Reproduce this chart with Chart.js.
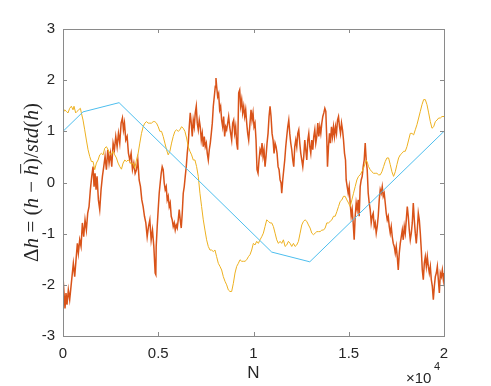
<!DOCTYPE html>
<html><head><meta charset="utf-8">
<script src="https://cdn.jsdelivr.net/npm/chart.js@4"></script>
<style>html,body{margin:0;padding:0;background:#fff}#wrap{width:491px;height:386px}</style>
</head><body><div id="wrap"><canvas id="c" width="491" height="386"></canvas></div>
<script>
// ---- data ----
const xTicks = [0, 5000, 10000, 15000, 20000];
const yTicks = [-3, -2, -1, 0, 1, 2, 3];
const blueN = [0, 1050, 2944, 10957, 12955, 20000];
const blueV = [1.0, 1.38, 1.56, -1.36, -1.55, 1.0];

const yellowN = [0,88,175,263,351,438,526,578,666,736,824,912,964,1052,1139,1227,1315,1402,1490,1578,1665,1753,1841,1928,2016,2104,2191,2279,2367,2454,2542,2630,2717,2805,2892,2980,3068,3155,3243,3331,3418,3506,3594,3681,3769,3857,3944,4032,4120,4207,4295,4383,4470,4558,4645,4733,
4822,4910,4997,5085,5173,5260,5348,5436,5523,5611,5699,5786,5874,5961,6049,6137,6224,6312,6400,6487,6575,6663,6750,6838,6926,7013,7101,7189,7276,7364,7452,7539,7627,7715,7802,7890,7977,8065,8153,8240,8328,8416,8503,8591,8679,8766,8854,8942,9029,9117,9205,9292,9380,9468,9555,9643,9731,
9817,9905,9992,10080,10168,10255,10343,10431,10518,10606,10694,10781,10869,10956,11044,11132,11219,11307,11395,11482,11570,11658,11745,11833,11921,12008,12096,12184,12271,12359,12447,12534,12622,12709,12797,12885,12972,13060,13148,13235,13323,13411,13498,13586,13674,13761,13849,13937,14024,14112,14200,14287,14375,14462,14550,14638,14725,
14812,14900,14987,15075,15163,15250,15338,15426,15513,15601,15689,15776,15864,15916,15986,16039,16127,16214,16302,16390,16477,16565,16653,16740,16828,16916,17003,17091,17179,17266,17354,17442,17529,17617,17705,17792,17880,17967,18055,18143,18230,18318,18406,18493,18581,18669,18756,18844,18932,19019,19107,19195,19282,19370,19458,19545,19633,19721,19808,19896,20000];
const yellowV = [1.36,1.42,1.39,1.36,1.45,1.49,1.42,1.49,1.36,1.39,1.42,1.45,1.36,1.22,1.03,0.83,0.64,0.51,0.41,0.41,0.25,0.38,0.44,0.54,0.57,0.54,0.67,0.70,0.64,0.57,0.54,0.61,0.54,0.48,0.38,0.31,0.26,0.38,0.44,0.41,0.44,0.41,0.35,0.38,0.28,0.44,0.57,0.77,0.96,1.09,1.16,1.19,1.16,1.16,1.16,1.19,
1.19,1.16,1.09,1.00,1.00,0.90,0.77,0.64,0.54,0.61,0.77,0.90,1.00,1.03,1.00,1.03,1.09,1.06,1.00,0.87,0.70,0.61,0.54,0.44,0.44,0.31,0.12,-0.21,-0.47,-0.73,-0.93,-1.12,-1.25,-1.32,-1.32,-1.35,-1.32,-1.45,-1.58,-1.64,-1.71,-1.84,-1.93,-2.00,-2.10,-2.13,-2.13,-1.97,-1.77,-1.64,-1.58,-1.51,-1.54,-1.54,-1.54,-1.51,-1.45,
-1.41,-1.32,-1.19,-1.22,-1.15,-1.19,-1.12,-1.06,-0.99,-0.86,-0.73,-0.76,-0.79,-0.79,-0.86,-0.99,-1.12,-1.19,-1.15,-1.19,-1.12,-1.25,-1.22,-1.15,-1.19,-1.25,-1.19,-1.25,-1.22,-1.15,-0.99,-0.83,-0.76,-0.73,-0.76,-0.83,-0.89,-0.99,-1.02,-0.99,-0.96,-0.96,-0.96,-0.93,-0.93,-0.89,-0.79,-0.79,-0.76,-0.73,-0.66,-0.66,-0.57,-0.47,-0.37,-0.34,-0.27,
-0.27,-0.34,-0.40,-0.47,-0.34,-0.21,-0.08,0.05,0.12,0.15,0.21,0.28,0.38,0.44,0.38,0.31,0.25,0.21,0.18,0.18,0.18,0.15,0.15,0.21,0.31,0.41,0.48,0.48,0.35,0.21,0.12,0.21,0.35,0.48,0.54,0.57,0.61,0.61,0.70,0.83,0.96,0.96,0.93,1.03,1.13,1.26,1.39,1.52,1.62,1.62,1.52,1.36,1.19,1.06,1.09,1.19,1.22,1.26,1.26,1.29,1.29];

const orangeN = [0,53,105,158,210,280,351,421,491,543,614,684,754,806,877,947,1017,1087,1157,1227,1297,1367,1437,1508,1578,1630,1683,1735,1788,1858,1928,1998,2069,2139,2209,2279,2349,2419,2489,2559,2630,2700,2770,2840,2910,2980,3050,3120,3173,3226,3296,3366,3436,3506,3576,3647,3717,3787,3857,3927,3997,4067,4137,4207,4277,4348,4418,4488,4558,4628,4698,4768,4838,4873,
4892,4945,4997,5050,5102,5155,5208,5260,5313,5365,5418,5471,5523,5576,5628,5681,5734,5786,5839,5891,5944,5997,6049,6102,6154,6207,6259,6312,6365,6417,6470,6522,6575,6628,6680,6733,6785,6838,6890,6943,6996,7048,7101,7153,7206,7259,7311,7364,7416,7469,7522,7574,7627,7679,7732,7785,7837,7890,7942,7995,8030,8065,8118,8170,8223,8275,8328,8381,8433,8486,8538,8591,8644,8696,8749,8801,8854,8907,8959,9012,9064,9117,9169,9222,9275,9327,9380,9432,9485,9538,9590,9643,9695,9748,9801,
9870,9922,9975,10027,10080,10133,10185,10238,10290,10343,10395,10448,10501,10553,10606,10658,10711,10764,10816,10869,10921,10974,11027,11079,11132,11184,11237,11290,11342,11395,11447,11482,11535,11588,11640,11693,11745,11798,11851,11903,11956,12008,12061,12113,12166,12219,12271,12324,12376,12429,12482,12534,12587,12639,12692,12744,12797,12850,12902,12955,13007,13060,13113,13165,13218,13270,13323,13375,13428,13481,13533,13586,13638,13691,13744,13796,13849,13884,13936,13989,14041,14094,14147,14199,14252,14304,14357,14410,14462,14515,14568,14620,14673,14725,14778,
14830,14865,14917,14970,15022,15075,15128,15180,15233,15285,15338,15390,15443,15496,15548,15601,15653,15706,15759,15811,15864,15916,15969,16022,16074,16127,16179,16232,16285,16337,16390,16442,16495,16547,16600,16653,16705,16758,16810,16863,16916,16968,17021,17073,17126,17179,17231,17284,17336,17389,17442,17494,17547,17599,17652,17705,17757,17810,17862,17915,17967,18020,18073,18125,18178,18230,18283,18335,18388,18441,18493,18546,18598,18651,18704,18756,18809,18861,18914,18966,19019,19072,19124,19177,19229,19282,19334,19387,19440,19492,19545,19597,19650,19703,19756,19808,19861,19913,19966,20000];
const orangeV = [-1.84,-2.16,-2.46,-2.16,-2.39,-2.10,-2.29,-2.03,-1.77,-1.58,-1.84,-1.51,-1.19,-1.38,-1.12,-1.25,-0.79,-1.06,-0.73,-0.93,-0.60,-0.47,-0.14,0.12,0.31,-0.08,0.18,-0.14,0.12,-0.34,-0.53,-0.14,0.12,0.31,0.51,0.25,0.64,0.38,0.57,0.31,0.77,0.64,0.90,0.70,0.96,0.77,1.16,1.26,1.03,1.16,0.83,0.90,0.57,0.44,0.57,0.25,0.38,0.18,0.25,0.44,0.05,-0.08,-0.34,-0.47,-0.66,-0.79,-1.06,-0.86,-0.73,-1.12,-0.93,-1.25,-1.77,-1.80,
-1.25,-0.86,-0.53,-0.21,-0.01,0.18,0.31,0.25,-0.01,-0.14,-0.08,-0.34,-0.27,-0.47,-0.40,-0.66,-0.73,-0.86,-0.79,-0.93,-0.83,-0.89,-0.73,-0.53,-0.73,-0.89,-0.60,-0.21,-0.08,0.12,0.31,0.57,0.77,1.09,1.36,1.16,0.90,1.22,1.09,1.36,1.49,1.16,1.03,1.22,1.09,0.83,0.96,0.70,0.90,0.70,0.77,0.57,0.44,0.64,0.77,0.96,1.16,1.49,1.68,1.88,2.04,1.88,1.68,1.74,1.42,1.49,1.22,1.09,1.29,0.90,1.09,1.03,1.16,1.29,1.09,0.96,0.83,1.16,1.22,0.96,1.09,0.77,0.64,1.75,1.81,1.49,1.62,1.36,1.49,1.29,1.42,1.16,0.96,0.83,1.09,
1.42,1.22,1.36,1.09,1.16,0.83,0.25,0.18,0.44,0.64,0.57,0.77,0.51,0.64,0.31,0.51,0.77,0.96,1.29,1.49,1.29,0.96,0.83,0.57,0.77,0.70,0.57,0.31,0.25,0.05,-0.01,-0.21,0.05,0.25,0.44,0.70,0.90,1.09,1.22,0.96,0.77,0.64,0.44,0.31,0.70,0.83,0.70,0.96,1.03,0.77,0.57,0.44,0.31,0.51,0.83,0.64,0.44,0.83,0.96,0.70,0.57,0.83,0.64,0.90,1.03,0.77,0.90,1.16,0.90,1.09,0.96,1.16,1.29,1.36,1.45,1.39,0.83,0.31,0.70,0.96,0.77,1.09,0.90,1.09,0.90,1.09,0.96,1.22,1.29,1.09,0.96,1.16,1.03,0.83,0.57,
0.44,0.05,-0.08,-0.21,-0.08,-0.40,-0.66,-0.53,-0.79,-1.12,-0.66,-0.40,-0.53,-0.34,-0.66,-0.08,0.05,0.12,0.31,0.44,0.77,0.44,0.25,-0.21,-0.40,-0.53,-0.79,-0.66,-0.60,-0.86,-0.79,-0.99,-0.86,-0.66,-0.34,-0.14,-0.21,-0.08,-0.27,-0.21,-0.40,-0.60,-0.73,-0.66,-0.86,-0.99,-0.86,-1.06,-1.19,-1.25,-1.38,-1.25,-1.45,-1.71,-1.38,-1.19,-1.06,-0.93,-1.12,-0.86,-0.99,-0.73,-0.47,-0.66,-0.93,-1.12,-0.99,-0.79,-0.40,-0.73,-0.99,-1.19,-0.93,-0.60,-0.73,-0.99,-1.32,-1.71,-1.90,-1.58,-1.45,-1.64,-1.45,-1.64,-1.77,-1.64,-1.90,-2.03,-2.29,-2.03,-1.84,-1.77,-1.64,-1.90,-2.16,-1.77,-1.84,-1.71,-1.90,-1.77];

const toPts = (xs, ys) => xs.map((x, i) => ({x: x, y: ys[i]}));

const AX = '#262626';
const BOX = '#8a8a8a';

const boxPlugin = {
  id: 'boxPlugin',
  afterDatasetsDraw(chart) {
    const {ctx, chartArea: a, scales: {x, y}} = chart;
    ctx.save();
    ctx.strokeStyle = BOX;
    ctx.lineWidth = 1;
    ctx.strokeRect(Math.round(a.left) + 0.5, Math.round(a.top) + 0.5, Math.round(a.right - a.left), Math.round(a.bottom - a.top));
    const L = 4;
    ctx.beginPath();
    xTicks.forEach(v => {
      const px = Math.round(x.getPixelForValue(v)) + 0.5;
      ctx.moveTo(px, a.bottom); ctx.lineTo(px, a.bottom - L);
      ctx.moveTo(px, a.top); ctx.lineTo(px, a.top + L);
    });
    yTicks.forEach(v => {
      const py = Math.round(y.getPixelForValue(v)) + 0.5;
      ctx.moveTo(a.left, py); ctx.lineTo(a.left + L, py);
      ctx.moveTo(a.right, py); ctx.lineTo(a.right - L, py);
    });
    ctx.stroke();

    // x label
    ctx.fillStyle = AX;
    ctx.font = '17px "Liberation Sans", Arial, sans-serif';
    ctx.textAlign = 'center';
    ctx.textBaseline = 'alphabetic';
    ctx.fillText('N', (a.left + a.right) / 2, 378);
    // exponent
    ctx.font = '15px "Liberation Sans", Arial, sans-serif';
    ctx.textAlign = 'left';
    ctx.fillText('\u00d710', 406, 383);
    ctx.font = '11px "Liberation Sans", Arial, sans-serif';
    ctx.fillText('4', 434, 370);

    // y label (math style)
    const segs = [
      ['\u0394', false], ['h', true], [' = ', false], ['(', false], ['h', true], [' \u2212 ', false],
      ['h', true, true], [')/', false], ['std', true], ['(', false], ['h', true], [')', false]
    ];
    const measure = fs => {
      let t = 0;
      segs.forEach(s => { ctx.font = (s[1] ? 'italic ' : '') + fs + 'px "Liberation Serif", "Times New Roman", serif'; t += ctx.measureText(s[0]).width; });
      return t;
    };
    const fs = 18 * 159 / measure(18);
    const total = measure(fs);
    ctx.save();
    ctx.translate(37.5, (a.top + a.bottom) / 2);
    ctx.rotate(-Math.PI / 2);
    let cx = -total / 2;
    ctx.textAlign = 'left';
    segs.forEach(s => {
      ctx.font = (s[1] ? 'italic ' : '') + fs + 'px "Liberation Serif", "Times New Roman", serif';
      const w = ctx.measureText(s[0]).width;
      ctx.fillText(s[0], cx, 0);
      if (s[2]) {
        ctx.beginPath();
        ctx.strokeStyle = AX;
        ctx.lineWidth = 1;
        ctx.moveTo(cx + 2, -fs * 0.8); ctx.lineTo(cx + w + 1, -fs * 0.8);
        ctx.stroke();
      }
      cx += w;
    });
    ctx.restore();
    ctx.restore();
  }
};

new Chart(document.getElementById('c'), {
  type: 'line',
  data: {
    datasets: [
      {data: toPts(blueN, blueV), borderColor: '#4DBEEE', borderWidth: 1, pointRadius: 0, tension: 0, fill: false},
      {data: toPts(yellowN, yellowV), borderColor: '#EDB120', borderWidth: 1, pointRadius: 0, tension: 0, fill: false},
      {data: toPts(orangeN, orangeV), borderColor: '#D95319', borderWidth: 1.5, pointRadius: 0, tension: 0, fill: false}
    ]
  },
  options: {
    responsive: false,
    animation: false,
    events: [],
    layout: {padding: {top: 29, right: 47, left: 0, bottom: 0}},
    plugins: {legend: {display: false}, tooltip: {enabled: false}},
    scales: {
      x: {
        type: 'linear', min: 0, max: 20000,
        afterBuildTicks: s => { s.ticks = xTicks.map(v => ({value: v})); },
        afterFit: s => { s.height = 50; },
        grid: {display: false, drawTicks: false},
        border: {display: false},
        ticks: {color: AX, padding: 9, font: {family: '"Liberation Sans", Arial, sans-serif', size: 15},
          callback: v => String(v / 10000)}
      },
      y: {
        type: 'linear', min: -3, max: 3,
        afterBuildTicks: s => { s.ticks = yTicks.map(v => ({value: v})); },
        afterFit: s => { s.width = 63; },
        grid: {display: false, drawTicks: false},
        border: {display: false},
        ticks: {color: AX, padding: 8, font: {family: '"Liberation Sans", Arial, sans-serif', size: 15},
          callback: v => String(v)}
      }
    }
  },
  plugins: [boxPlugin]
});
</script></body></html>
